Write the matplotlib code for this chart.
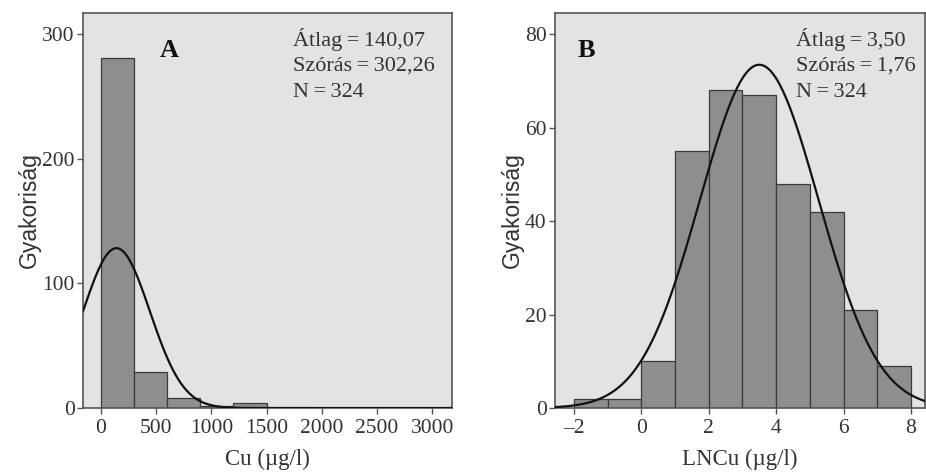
import numpy as np
import matplotlib
matplotlib.use('Agg')
import matplotlib.pyplot as plt

# panel A: Cu, bins of 300
cu_edges = [0, 300, 600, 900, 1200, 1500]
cu_counts = [281, 29, 8, 2, 4]
cu_mean, cu_sd, cu_n = 140.07, 302.26, 324
cu_ticks = [0, 500, 1000, 1500, 2000, 2500, 3000]
cu_yticks = [0, 100, 200, 300]

# panel B: LNCu, bins of 1
ln_edges = [-2, -1, 0, 1, 2, 3, 4, 5, 6, 7, 8]
ln_counts = [2, 2, 10, 55, 68, 67, 48, 42, 21, 9]
ln_mean, ln_sd, ln_n = 3.50, 1.76, 324
ln_ticks = [-2, 0, 2, 4, 6, 8]
ln_yticks = [0, 20, 40, 60, 80]

SERIF = ['Liberation Serif', 'DejaVu Serif']
BG = '#e3e3e3'
BAR = '#8e8e8e'
EDGE = '#3a3a3a'
TXT = '#333333'
TS = '\u2009'  # thin space around "="


def panel(ax, edges, counts, mean, sd, n, xlim, ylim, xticks, yticks,
          xlabel, letter, stats, letter_x, stats_x):
    ax.set_facecolor(BG)
    widths = np.diff(edges)
    ax.bar(edges[:-1], counts, width=widths, align='edge',
           color=BAR, edgecolor=EDGE, linewidth=0.9, zorder=2)
    xs = np.linspace(xlim[0], xlim[1], 400)
    bw = widths[0]
    ys = n * bw / (sd * np.sqrt(2 * np.pi)) * np.exp(-0.5 * ((xs - mean) / sd) ** 2)
    ax.plot(xs, ys, color='#111111', linewidth=1.6, zorder=3)
    ax.set_xlim(*xlim)
    ax.set_ylim(*ylim)
    ax.set_xticks(xticks)
    ax.set_yticks(yticks)
    ax.set_xticklabels([str(t).replace('-', '\u2013') for t in xticks],
                       family=SERIF, fontsize=15.5, color=TXT)
    ax.set_yticklabels([str(t) for t in yticks], family=SERIF,
                       fontsize=15.5, color=TXT)
    ax.tick_params(direction='out', length=4, width=1, color='#555555', pad=2)
    ax.tick_params(axis='x', pad=4)
    for s in ax.spines.values():
        s.set_color('#555555')
        s.set_linewidth(1.2)
    ax.set_xlabel(xlabel, family=SERIF, fontsize=16.5, color=TXT, labelpad=8)
    ax.set_ylabel('Gyakoriság', family='Liberation Sans', fontsize=16.5,
                  color=TXT, labelpad=1)
    ax.text(letter_x, 0.905, letter, transform=ax.transAxes, family=SERIF,
            fontsize=19, fontweight='bold', color='#111111', ha='center', va='center')
    for i, line in enumerate(stats):
        ax.text(stats_x, 0.932 - i * 0.067, line.replace(' = ', TS + '=' + TS),
                transform=ax.transAxes, family=SERIF, fontsize=16,
                color=TXT, ha='left', va='center')


fig = plt.figure(figsize=(9.26, 4.73), dpi=100)
ax1 = fig.add_axes([0.0896, 0.1374, 0.3985, 0.835])
ax2 = fig.add_axes([0.5994, 0.1374, 0.3996, 0.835])

panel(ax1, cu_edges, cu_counts, cu_mean, cu_sd, cu_n, (-163, 3180), (0, 317),
      cu_ticks, cu_yticks, 'Cu (µg/l)', 'A',
      ['Átlag = 140,07', 'Szórás = 302,26', 'N = 324'], 0.235, 0.568)
panel(ax2, ln_edges, ln_counts, ln_mean, ln_sd, ln_n, (-2.56, 8.42), (0, 84.5),
      ln_ticks, ln_yticks, 'LNCu (µg/l)', 'B',
      ['Átlag = 3,50', 'Szórás = 1,76', 'N = 324'], 0.085, 0.65)

fig.savefig('out.png', dpi=100, facecolor='white')
